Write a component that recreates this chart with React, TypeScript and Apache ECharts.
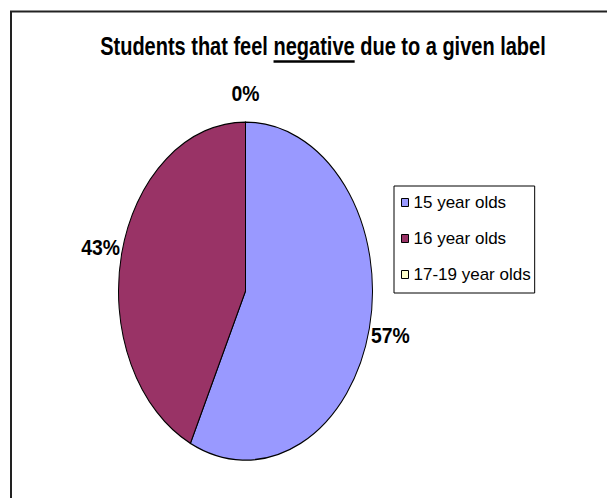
import React, { useEffect, useRef } from "react";
import * as echarts from "echarts";

const CATEGORIES = ["15 year olds", "16 year olds", "17-19 year olds"];
const VALUES = [4, 3, 0];
const COLORS = ["#9999FF", "#993366", "#FFFFCC"];
const TITLE_PRE = "Students that feel ";
const TITLE_EM = "negative";
const TITLE_POST = " due to a given label";

const FONT = "'Liberation Sans', Arial, sans-serif";

export default function App() {
  const ref = useRef<HTMLDivElement>(null);
  useEffect(() => {
    document.body.style.overflow = "hidden";
    const chart = echarts.init(ref.current!, null, { renderer: "svg" });

    // layout
    const CX = 237.5;
    const CY = 283;
    const RX = 127;
    const RY = 169;
    const LF = 1.17;
    const total = VALUES.reduce((a, b) => a + b, 0);

    // title measurement
    const titleSize = 25;
    const titleScale = 0.8;
    const cv = document.createElement("canvas").getContext("2d")!;
    cv.font = `bold ${titleSize}px ${FONT}`;
    const wPre = cv.measureText(TITLE_PRE).width * titleScale;
    const wEm = cv.measureText(TITLE_EM).width * titleScale;
    const wPost = cv.measureText(TITLE_POST).width * titleScale;
    const titleCenter = 315;
    const tx0 = titleCenter - (wPre + wEm + wPost) / 2;
    const ty = 38.5;
    const titleStyle = (text: string) => ({
      text,
      font: `bold ${titleSize}px ${FONT}`,
      fill: "#000",
      align: "left",
      verticalAlign: "middle",
    });

    const series = CATEGORIES.map((name, i) => ({
      type: "custom",
      name,
      coordinateSystem: "none",
      itemStyle: { color: COLORS[i], borderColor: "#000", borderWidth: 1 },
      data: [[VALUES[i]]],
      renderItem: (params: any, api: any) => {
        const idx = params.seriesIndex;
        const v = api.value(0);
        const before = VALUES.slice(0, idx).reduce((a, b) => a + b, 0);
        const start = -Math.PI / 2 + (2 * Math.PI * before) / total;
        const end = start + (2 * Math.PI * v) / total;
        const mid = (start + end) / 2;
        const children: any[] = [];
        if (v > 0) {
          children.push({
            type: "sector",
            shape: { cx: CX, cy: CY, r: RX, r0: 0, startAngle: start, endAngle: end, clockwise: true },
            originX: CX,
            originY: CY,
            scaleY: RY / RX,
            style: { fill: COLORS[idx], stroke: "#000", lineWidth: 1, strokeNoScale: true },
          });
        }
        children.push({
          type: "text",
          x: CX + Math.cos(mid) * RX * LF,
          y: CY + Math.sin(mid) * RY * LF,
          scaleX: 0.88,
          style: {
            text: Math.round((v / total) * 100) + "%",
            font: `bold 22px ${FONT}`,
            fill: "#000",
            align: "center",
            verticalAlign: "middle",
          },
        });
        return { type: "group", children };
      },
    }));

    chart.setOption({
      animation: false,
      backgroundColor: "#fff",
      legend: {
        orient: "vertical",
        left: 386,
        top: 178,
        data: CATEGORIES,
        icon: "rect",
        itemWidth: 7,
        itemHeight: 8,
        itemGap: 19,
        padding: [8, 4, 10, 7],
        borderColor: "#000",
        borderWidth: 1,
        itemStyle: { borderColor: "#000", borderWidth: 1 },
        textStyle: { fontFamily: FONT, fontSize: 17, color: "#000" },
        selectedMode: false,
      },
      graphic: [
        { type: "line", shape: { x1: 2, y1: 3.5, x2: 607, y2: 3.5 }, style: { stroke: "#222", lineWidth: 2 } },
        { type: "line", shape: { x1: 3, y1: 3, x2: 3, y2: 490 }, style: { stroke: "#222", lineWidth: 2 } },
        { type: "text", x: tx0, y: ty, scaleX: titleScale, style: titleStyle(TITLE_PRE) },
        { type: "text", x: tx0 + wPre, y: ty, scaleX: titleScale, style: titleStyle(TITLE_EM) },
        { type: "text", x: tx0 + wPre + wEm, y: ty, scaleX: titleScale, style: titleStyle(TITLE_POST) },
        {
          type: "line",
          shape: { x1: tx0 + wPre, y1: 53.5, x2: tx0 + wPre + wEm, y2: 53.5 },
          style: { stroke: "#000", lineWidth: 2.5 },
        },
      ],
      series,
    });
    return () => chart.dispose();
  }, []);
  return <div ref={ref} style={{ width: 607, height: 490 }} />;
}
